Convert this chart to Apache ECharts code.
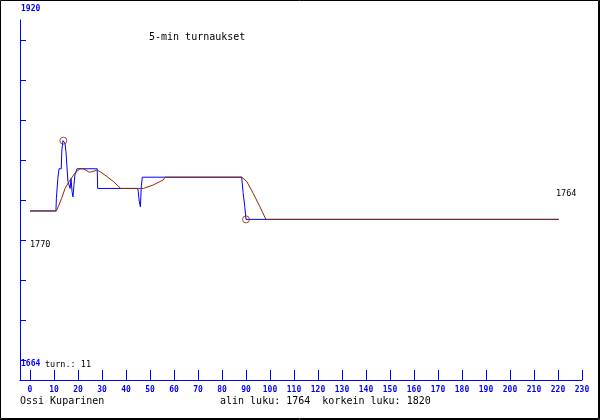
<!DOCTYPE html>
<html>
<head>
<meta charset="utf-8">
<script src="https://cdn.jsdelivr.net/npm/echarts@6/dist/echarts.min.js"></script>
<style>
html,body{margin:0;padding:0;background:#fff;}
#chart{width:600px;height:420px;}
</style>
</head>
<body>
<div id="chart"></div>
<script>
// ---- data ----
const blueX = [0, 10.8, 11.0, 11.6, 12.1, 13.0, 13.3, 13.75, 14.2, 14.6, 15.0, 15.4, 15.8, 16.5, 16.7, 17.1, 17.5, 17.9, 18.3, 18.75, 19.6, 28.0, 28.2, 44.9, 45.1, 45.5, 46.0, 46.4, 46.8, 88.2, 88.8, 89.5, 90.0, 220.3];
const blueY = [1770, 1770, 1779, 1793, 1800, 1800, 1814, 1820, 1820, 1818, 1812, 1801.5, 1791, 1791, 1786, 1793, 1784, 1780, 1788, 1796, 1800, 1800, 1786, 1786, 1784, 1777, 1773, 1788, 1794, 1794, 1783, 1773, 1764, 1764];
const brownX = [0, 11, 12, 13.2, 14.6, 16.7, 18.75, 20.8, 22.2, 23.3, 24.7, 26.1, 27.8, 29.2, 32, 34.7, 37.8, 45.1, 45.8, 47.2, 51.4, 55.5, 56.3, 88.2, 90.3, 93, 95.8, 98.3, 220.3];
const brownY = [1770, 1770, 1774, 1779, 1786, 1792, 1797, 1800, 1800, 1799, 1797.5, 1798, 1799, 1798, 1794.5, 1791, 1786, 1786, 1785, 1786, 1788.5, 1792, 1794, 1794, 1791, 1782.5, 1773, 1764, 1764];
const extremeX = [13.9, 90];
const extremeY = [1820, 1764];
const xTicks = [0,10,20,30,40,50,60,70,80,90,100,110,120,130,140,150,160,170,180,190,200,210,220,230];
const yLow = 1664, yHigh = 1920;
const startValue = 1770, endValue = 1764, minValue = 1764, maxValue = 1820;
const tournaments = 11;
const titleText = '5-min turnaukset';
const author = 'Ossi Kuparinen';

// ---- chart ----
const BLUE = '#0000ff';
const BROWN = '#8b2a00';
const MONO = '"DejaVu Sans Mono", "Liberation Mono", monospace';
const pxPerUnitY = 360 / (yHigh - yLow);
const yMin = yLow - 20 / pxPerUnitY;
const yMax = yLow + 340 / pxPerUnitY;
const yTicks = [];
for (let k = 0; k <= 8; k++) yTicks.push(yLow + k * (yHigh - yLow) / 9);

const zip = (a, b) => a.map((v, i) => [v, b[i]]);

const chart = echarts.init(document.getElementById('chart'), null, {renderer: 'canvas'});
chart.setOption({
  animation: false,
  backgroundColor: '#ffffff',
  grid: {left: 20, top: 20, width: 562, height: 360, containLabel: false},
  xAxis: {
    type: 'value', min: -25 / 6, max: 230,
    axisLine: {show: true, onZero: false, lineStyle: {color: BLUE, width: 1}},
    axisTick: {show: true, inside: true, length: 10, lineStyle: {color: BLUE, width: 1}, customValues: xTicks},
    axisLabel: {show: true, color: BLUE, fontFamily: MONO, fontSize: 8, fontWeight: 'bold', margin: 6, customValues: xTicks},
    splitLine: {show: false}
  },
  yAxis: {
    type: 'value', min: yMin, max: yMax,
    axisLine: {show: true, onZero: false, lineStyle: {color: BLUE, width: 1}},
    axisTick: {show: true, inside: true, length: 6, lineStyle: {color: BLUE, width: 1}, customValues: yTicks},
    axisLabel: {show: false},
    splitLine: {show: false}
  },
  series: [
    {type: 'line', data: zip(blueX, blueY), symbol: 'none', z: 2,
     lineStyle: {color: BLUE, width: 1}},
    {type: 'line', data: zip(brownX, brownY), symbol: 'none', z: 3,
     lineStyle: {color: BROWN, width: 1}},
    {type: 'scatter', data: zip(extremeX, extremeY), symbol: 'circle', symbolSize: 7, z: 4,
     itemStyle: {color: 'rgba(0,0,0,0)', borderColor: BROWN, borderWidth: 1}}
  ],
  graphic: [
    {type: 'rect', shape: {x: 0.5, y: 0.5, width: 598, height: 418}, style: {fill: null, stroke: '#000', lineWidth: 1}, silent: true},
    {type: 'polyline', shape: {points: [[599.5, 0], [599.5, 419.5], [0, 419.5]]}, style: {fill: null, stroke: '#000', lineWidth: 1}, silent: true},
    {type: 'text', left: 21, top: 5, style: {text: String(yHigh), fill: BLUE, font: 'bold 8px ' + MONO}},
    {type: 'text', left: 21, top: 360, style: {text: String(yLow), fill: BLUE, font: 'bold 8px ' + MONO}},
    {type: 'text', left: 45, top: 360, style: {text: 'turn.: ' + tournaments, fill: '#000', font: '8.5px ' + MONO}},
    {type: 'text', left: 149, top: 32, style: {text: titleText, fill: '#000', font: '10px ' + MONO}},
    {type: 'text', left: 30, top: 240, style: {text: String(startValue), fill: '#000', font: '8.5px ' + MONO}},
    {type: 'text', left: 556, top: 189, style: {text: String(endValue), fill: '#000', font: '8.5px ' + MONO}},
    {type: 'text', left: 20, top: 396, style: {text: author, fill: '#000', font: '10px ' + MONO}},
    {type: 'text', left: 220, top: 396, style: {text: 'alin luku: ' + minValue + '  korkein luku: ' + maxValue, fill: '#000', font: '10px ' + MONO}}
  ]
});
</script>
</body>
</html>
